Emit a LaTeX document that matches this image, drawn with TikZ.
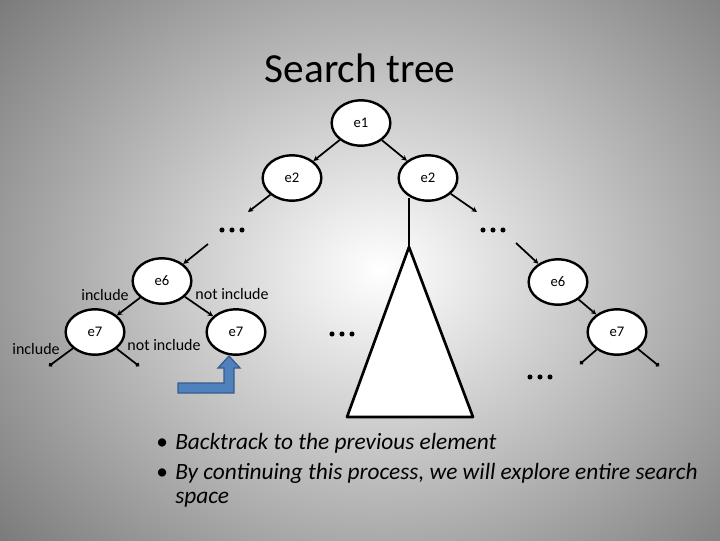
\documentclass[tikz,border=0pt]{standalone}
\usepackage{fontspec}
\setmainfont{Carlito}
\usetikzlibrary{arrows.meta,shapes.geometric}
\begin{document}
\begin{tikzpicture}[x=0.75pt,y=-0.75pt,
  nd/.style={ellipse,draw,line width=1.8pt,fill=white,minimum width=44pt,minimum height=34pt,inner sep=0pt,font=\fontsize{11}{12}\selectfont},
  ed/.style={line width=1.3pt,-{Stealth[length=4pt,width=4pt]}},
  lf/.style={line width=1.3pt,-{Circle[length=3pt]}},
  dots/.style={minimum width=28pt,minimum height=6pt,inner sep=0pt,
    path picture={\foreach \i in {-1,0,1}{\fill ([xshift=\i*7.5pt]path picture bounding box.center) circle (1.9pt);}}},
  lab/.style={font=\fontsize{12}{13}\selectfont},
  bul/.style={anchor=base west,inner sep=0pt,font=\fontsize{17.5}{20}\selectfont\itshape}]
\useasboundingbox (0,0) rectangle (720,540);
\shade[inner color=white,outer color=black!52] (-120,-150) rectangle (880,690);
\node (title) at (360,68) {\fontsize{31}{33}\selectfont Search tree};
\node[nd] (e1) at (361,123) {e1};
\node[nd] (e2l) at (292,178) {e2};
\node[nd] (e2r) at (428,178) {e2};
\node[nd] (e6l) at (162,281) {e6};
\node[nd] (e7a) at (95,332) {e7};
\node[nd] (e7b) at (236,332) {e7};
\node[nd] (e6r) at (558,282) {e6};
\node[nd] (e7r) at (617,332) {e7};
\draw[ed] (e1) -- (e2l);
\draw[ed] (e1) -- (e2r);
\coordinate (al) at (248,212);
\coordinate (ar) at (477,212);
\draw[ed] (e2l) -- (al);
\draw[ed] (e2r) -- (ar);
\node[dots] (d1) at (232,230) {};
\node[dots] (d2) at (493,230) {};
\node[dots] (d3) at (342,334) {};
\node[dots] (d4) at (540,377) {};
\coordinate (sl) at (208,244);
\coordinate (sr) at (516,243);
\draw[ed] (sl) -- (e6l);
\draw[ed] (sr) -- (e6r);
\draw[ed] (e6l) -- (e7a);
\draw[ed] (e6l) -- (e7b);
\draw[ed] (e6r) -- (e7r);
\coordinate (l1) at (49,366); \coordinate (l2) at (139,366);
\coordinate (l3) at (580,364); \coordinate (l4) at (659,366);
\draw[lf] (e7a) -- (l1); \draw[lf] (e7a) -- (l2);
\draw[lf] (e7r) -- (l3); \draw[lf] (e7r) -- (l4);
\coordinate (apex) at (409,247);
\coordinate (top) at (409,198);
\draw[line width=1.3pt] (top) -- (apex);
\draw[line width=2pt,fill=white,line join=round] (apex) -- (473,417) -- (347,417) -- cycle;
\node[lab] (t1) at (105,295) {include};
\node[lab] (t2) at (232,294) {not include};
\node[lab] (t3) at (36,349) {include};
\node[lab] (t4) at (164,345) {not include};
\draw[draw={rgb,255:red,56;green,93;blue,138},fill={rgb,255:red,79;green,129;blue,189},line width=1pt]
 (178,383) -- (224,383) -- (224,368) -- (218,368) -- (229,356) -- (240,368) -- (234,368) -- (234,393) -- (178,393) -- cycle;
\node[bul] (b1d) at (156,449) {\upshape\textbullet};
\node[bul] (b1) at (175,449) {Backtrack to the previous element};
\node[bul] (b2d) at (156,479) {\upshape\textbullet};
\node[bul] (b2) at (175,479) {By continuing this process, we will explore entire search};
\node[bul] (b3) at (175,503) {space};
\end{tikzpicture}
\end{document}
